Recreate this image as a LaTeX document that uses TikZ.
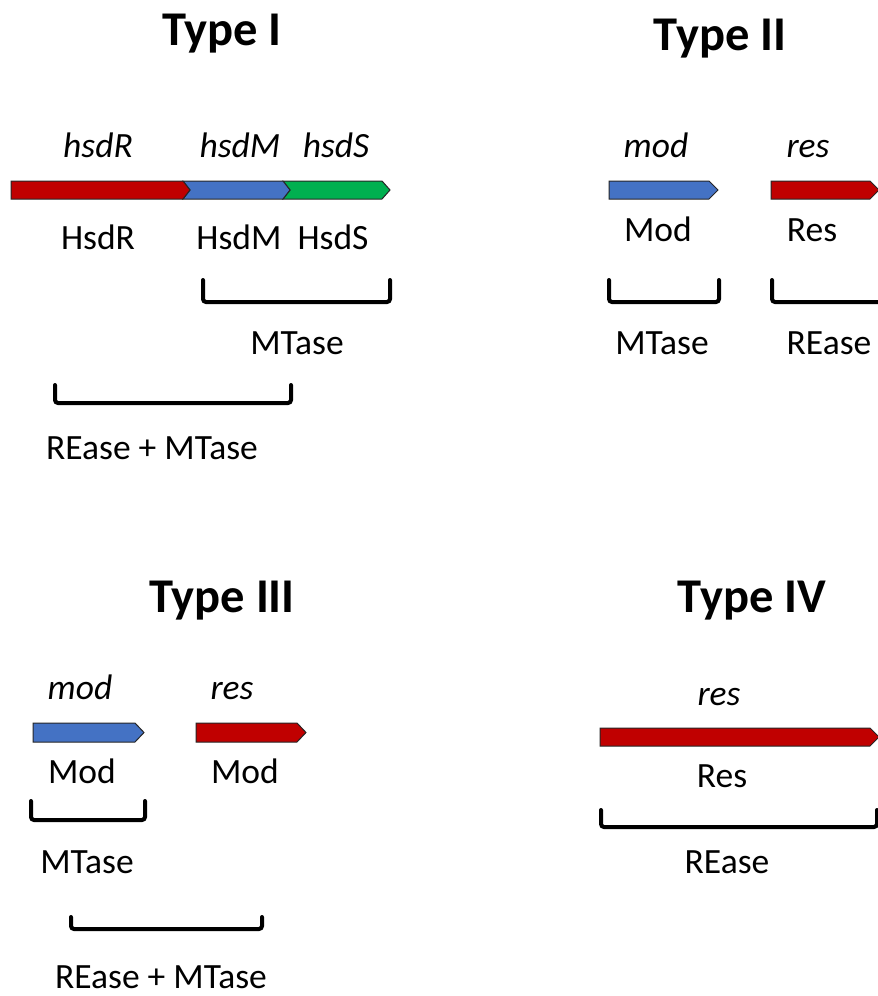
\documentclass[tikz,border=0pt]{standalone}
\usepackage{fontspec}
\setmainfont{Carlito}
\definecolor{gred}{HTML}{C00000}
\definecolor{gblue}{HTML}{4472C4}
\definecolor{ggreen}{HTML}{00B050}
\definecolor{gline}{HTML}{262626}
\begin{document}
\begin{tikzpicture}[x=1pt,y=-1pt,
  lbl/.style={anchor=base,inner sep=0pt,font=\fontsize{35.5}{42}\selectfont},
  gene/.style={anchor=base,inner sep=0pt,font=\fontsize{35.5}{42}\selectfont\itshape},
  ttl/.style={anchor=base,inner sep=0pt,font=\fontsize{48.5}{56}\selectfont\bfseries},
  brk/.style={line width=4pt,rounded corners=3pt,line cap=round,black},
  arr/.style={draw=gline,line width=1pt,line join=miter}]
\clip (0,0) rectangle (878,996);
\fill[white] (0,0) rectangle (878,996);

% ---------- Type I ----------
\node[ttl] (t1) at (222,45) {Type I};
\node[gene] (g1a) at (98,157) {hsdR};
\node[gene] (g1b) at (240,157) {hsdM};
\node[gene] (g1c) at (336,157) {hsdS};
\filldraw[arr,fill=ggreen] (283,181) -- (382,181) -- (390,190) -- (382,199) -- (283,199) -- (290,190) -- cycle;
\filldraw[arr,fill=gblue] (183,181) -- (283,181) -- (290,190) -- (283,199) -- (183,199) -- (190,190) -- cycle;
\filldraw[arr,fill=gred] (11,181) -- (183,181) -- (190,190) -- (183,199) -- (11,199) -- cycle;
\node[lbl] (p1a) at (98,249) {HsdR};
\node[lbl] (p1b) at (239,249) {HsdM};
\node[lbl] (p1c) at (333,249) {HsdS};
\draw[brk] (203,280) -- (203,302) -- (390,302) -- (390,280);
\node[lbl] (m1) at (297,354) {MTase};
\draw[brk] (55,385) -- (55,403) -- (291,403) -- (291,385);
\node[lbl] (rm1) at (152,459) {REase + MTase};

% ---------- Type II ----------
\node[ttl] (t2) at (720,50) {Type II};
\node[gene] (g2a) at (656,157) {mod};
\node[gene] (g2b) at (808,157) {res};
\filldraw[arr,fill=gblue] (609,181) -- (709,181) -- (718,190) -- (709,199) -- (609,199) -- cycle;
\filldraw[arr,fill=gred] (771,181) -- (870,181) -- (879,190) -- (870,199) -- (771,199) -- cycle;
\node[lbl] (p2a) at (658,241) {Mod};
\node[lbl] (p2b) at (812,241) {Res};
\draw[brk] (609,280) -- (609,302) -- (719,302) -- (719,280);
\draw[brk] (772,280) -- (772,302) -- (890,302);
\node[lbl] (m2) at (662,354) {MTase};
\node[lbl] (r2) at (829,354) {REase};

% ---------- Type III ----------
\node[ttl] (t3) at (222,612) {Type III};
\node[gene] (g3a) at (80,699) {mod};
\node[gene] (g3b) at (232,699) {res};
\filldraw[arr,fill=gblue] (33,723) -- (135,723) -- (144,732.5) -- (135,742) -- (33,742) -- cycle;
\filldraw[arr,fill=gred] (196,723) -- (297,723) -- (306,732.5) -- (297,742) -- (196,742) -- cycle;
\node[lbl] (p3a) at (82,783) {Mod};
\node[lbl] (p3b) at (245,783) {Mod};
\draw[brk] (31,801) -- (31,820) -- (145,820) -- (145,801);
\node[lbl] (m3) at (87,873) {MTase};
\draw[brk] (71,917) -- (71,929) -- (262,929) -- (262,917);
\node[lbl] (rm3) at (161,988) {REase + MTase};

% ---------- Type IV ----------
\node[ttl] (t4) at (752,612) {Type IV};
\node[gene] (g4a) at (719,705) {res};
\filldraw[arr,fill=gred] (600,728) -- (870,728) -- (879,737) -- (870,746) -- (600,746) -- cycle;
\node[lbl] (p4a) at (722,787) {Res};
\draw[brk] (601,810) -- (601,827) -- (877,827) -- (877,810);
\node[lbl] (r4) at (727,873) {REase};
\end{tikzpicture}
\end{document}
